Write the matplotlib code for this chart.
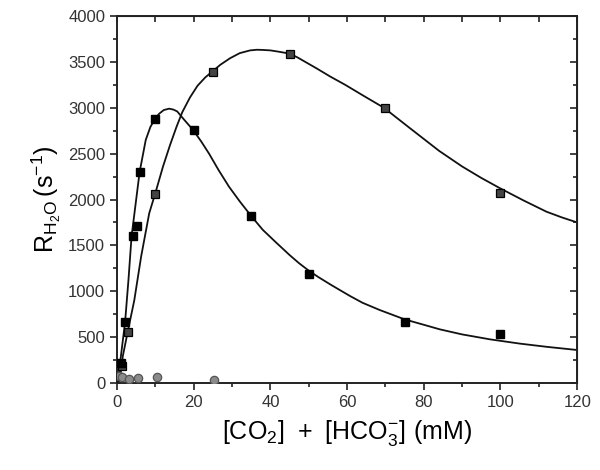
import matplotlib
matplotlib.use("Agg")
import matplotlib.pyplot as plt
from matplotlib.ticker import MultipleLocator

plt.rcParams['font.family'] = ['Liberation Sans', 'DejaVu Sans']
plt.rcParams['mathtext.fontset'] = 'custom'
plt.rcParams['mathtext.rm'] = 'Liberation Sans'

# measured points, hatched squares (tall curve)
a_x = [1.4, 2.8, 10, 25, 45, 70, 100]
a_y = [190, 560, 2060, 3390, 3590, 3000, 2070]
# measured points, black squares (early peak)
b_x = [1.0, 2.1, 4.1, 5.3, 6.1, 10, 20, 35, 50, 75, 100]
b_y = [220, 670, 1605, 1710, 2300, 2875, 2755, 1820, 1190, 670, 535]
# grey circles
c_x = [0.5, 1.3, 3, 5.6, 10.4, 25.3]
c_y = [80, 70, 45, 60, 70, 30]

# fitted curves
fit_a_x = [0.4, 1.0, 1.5, 2.8, 4.5, 6.3, 8.4, 10, 12, 13.8, 15.5, 17, 19, 21,
           23, 25, 27, 29.5, 32, 34.7, 36.5, 38, 40, 42, 45, 47, 49.5, 52,
           55.6, 59.5, 64.5, 69.6, 76, 84, 90, 95, 100, 106, 112, 116, 120]
fit_a_y = [0, 120, 290, 560, 900, 1380, 1850, 2070, 2360, 2590, 2790, 2950,
           3110, 3240, 3330, 3400, 3470, 3540, 3595, 3625, 3632, 3630, 3625,
           3612, 3590, 3550, 3490, 3430, 3340, 3250, 3125, 3000, 2790, 2530,
           2360, 2235, 2120, 1990, 1867, 1805, 1750]
fit_b_x = [0.2, 0.8, 2.1, 3.0, 3.8, 4.7, 5.9, 7.5, 8.7, 9.9, 11, 12.2, 13.6,
           14.7, 15.7, 17.5, 19.8, 22, 24, 26.5, 29.2, 32, 35, 38, 41.4, 45,
           47.5, 50, 52.5, 56, 60.7, 64, 68.5, 75, 80, 84.2, 90, 97.3, 105,
           112, 120]
fit_b_y = [0, 220, 660, 1130, 1600, 1900, 2300, 2650, 2790, 2880, 2935, 2975,
           2990, 2980, 2960, 2870, 2760, 2630, 2500, 2320, 2140, 1980, 1820,
           1670, 1535, 1395, 1305, 1225, 1155, 1065, 950, 875, 796, 694, 635,
           585, 530, 476, 430, 395, 360]

fig = plt.figure(figsize=(6, 4.7), dpi=100)
ax = fig.add_axes([0.195, 0.185, 0.767, 0.781])

ax.plot(fit_a_x, fit_a_y, color='#111111', lw=1.3, zorder=2)
ax.plot(fit_b_x, fit_b_y, color='#111111', lw=1.3, zorder=2)
ax.plot(a_x, a_y, 's', ms=5.5, mfc='#444444', mec='black', mew=0.9, zorder=3)
ax.plot(b_x, b_y, 's', ms=5.5, mfc='black', mec='black', zorder=3)
ax.plot(c_x, c_y, 'o', ms=6, mfc='#8a8a8a', mec='#555555', mew=0.9, zorder=3)

ax.set_xlim(0, 120)
ax.set_ylim(0, 4000)
ax.xaxis.set_major_locator(MultipleLocator(20))
ax.xaxis.set_minor_locator(MultipleLocator(10))
ax.yaxis.set_major_locator(MultipleLocator(500))
ax.yaxis.set_minor_locator(MultipleLocator(250))

for s in ax.spines.values():
    s.set_linewidth(1.4)
    s.set_color('#222222')

ax.tick_params(which='both', direction='out', width=1.2, color='#222222',
               labelsize=12, labelcolor='#333333')
ax.tick_params(which='major', length=5)
ax.tick_params(which='minor', length=3)

top = ax.secondary_xaxis('top')
top.xaxis.set_major_locator(MultipleLocator(10))
top.tick_params(direction='in', length=4, width=1.2, color='#222222', labeltop=False)
right = ax.secondary_yaxis('right')
right.yaxis.set_major_locator(MultipleLocator(500))
right.yaxis.set_minor_locator(MultipleLocator(250))
right.tick_params(which='both', direction='in', width=1.2, color='#222222', labelright=False)
right.tick_params(which='major', length=5)
right.tick_params(which='minor', length=3)

ax.set_xlabel(r'$\mathregular{[CO_2]\ +\ [HCO_3^{-}]\ (mM)}$', fontsize=18, labelpad=6)
ax.set_ylabel(r'$\mathregular{R_{H_2O}\,(s^{-1})}$', fontsize=18, labelpad=4)

fig.savefig('out.png', dpi=100)
